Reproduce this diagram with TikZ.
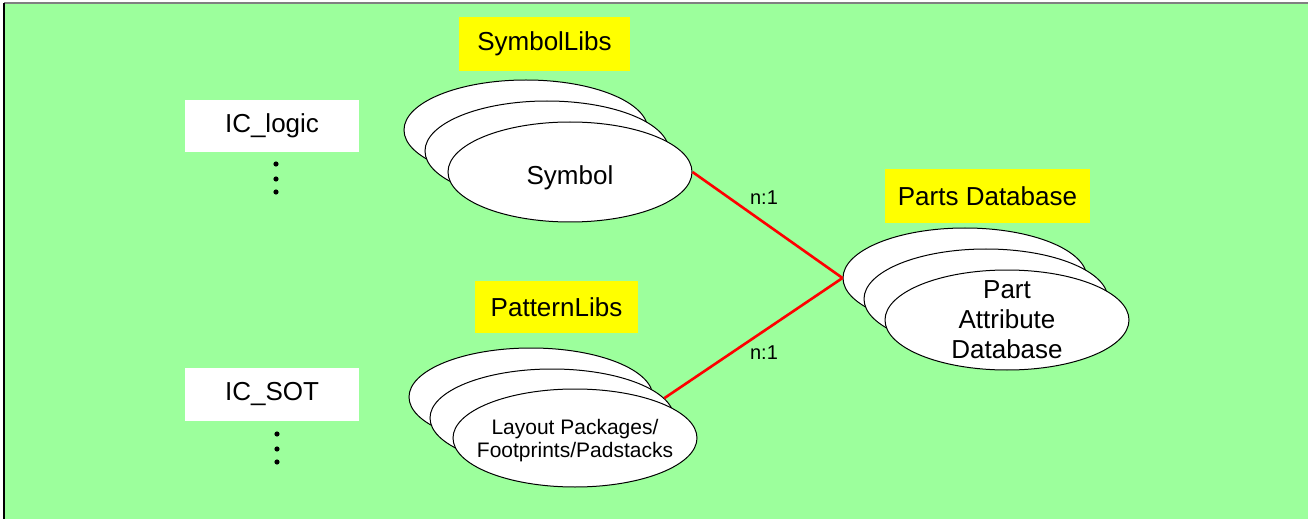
\documentclass[tikz,border=0pt]{standalone}
\usepackage{fontspec}
\setmainfont{Liberation Sans}
\usetikzlibrary{shapes.geometric}

\definecolor{bggreen}{RGB}{156,255,156}
\definecolor{tagyellow}{RGB}{255,255,0}

\begin{document}
\begin{tikzpicture}[x=0.5pt, y=-0.5pt,
  lib/.style={ellipse, draw=black, line width=0.5pt, fill=white,
    minimum width=122pt, minimum height=50pt, inner sep=0pt},
  tag/.style={fill=tagyellow, inner sep=0pt, font=\fontsize{13}{15}\selectfont},
  cell/.style={fill=white, inner sep=0pt, minimum width=87pt,
    minimum height=26pt, font=\fontsize{13}{15}\selectfont},
  link/.style={red, line width=1.3pt},
  ratio/.style={font=\fontsize{10}{12}\selectfont}]
\useasboundingbox (0,0) rectangle (1308,519);
\fill[bggreen] (4,3) rectangle (1308,519);
\draw[gray, line width=0.8pt] (4,3) -- (1308,3);
\draw[black, line width=0.8pt] (4,3) -- (4,519);

% left column
\node[cell, text depth=0.5ex] (L) at (272,126) {IC\_logic};
\node[cell, minimum height=26.5pt] (T) at (272,394.5) {IC\_SOT};
\fill (276,164) circle[radius=1.3pt];
\fill (276,179) circle[radius=1.3pt];
\fill (276,192) circle[radius=1.3pt];
\fill (277,434) circle[radius=1.3pt];
\fill (277,449) circle[radius=1.3pt];
\fill (277,462) circle[radius=1.3pt];

% yellow tags
\node[tag, minimum width=85.5pt, minimum height=27pt] (SL) at (544.5,44) {SymbolLibs};
\node[tag, minimum width=81.5pt, minimum height=26pt] (PL) at (556.5,307) {PatternLibs};
\node[tag, minimum width=102.5pt, minimum height=27pt] (PD) at (987.5,196) {Parts Database};

% symbol stack
\node[lib] (S1) at (526,130) {};
\node[lib] (S2) at (547,151) {};
\node[lib] (S3) at (570,172) {};
\node[font=\fontsize{13}{15}\selectfont, yshift=-3pt] at (S3) {Symbol};

% pattern stack
\node[lib, minimum height=49pt] (P1) at (531,397) {};
\node[lib, minimum height=49pt] (P2) at (552,418) {};
\node[lib, minimum height=49pt] (P3) at (575,438) {};
\node[align=center, font=\fontsize{10.5}{11.5}\selectfont, yshift=-1.5pt] at (P3)
  {Layout Packages/\\Footprints/Padstacks};

% parts database stack
\node[lib] (D1) at (965,278) {};
\node[lib] (D2) at (986,299) {};
\node[lib] (D3) at (1007,320) {};
\node[align=center, font=\fontsize{13}{15}\selectfont] at (D3)
  {Part\\Attribute\\Database};

% relations
\draw[link] (S3.east) -- (D1.west);
\draw[link] (P2.10) -- (D1.west);
\node[ratio] at (764,198) {n:1};
\node[ratio] at (764,353) {n:1};
\end{tikzpicture}
\end{document}
